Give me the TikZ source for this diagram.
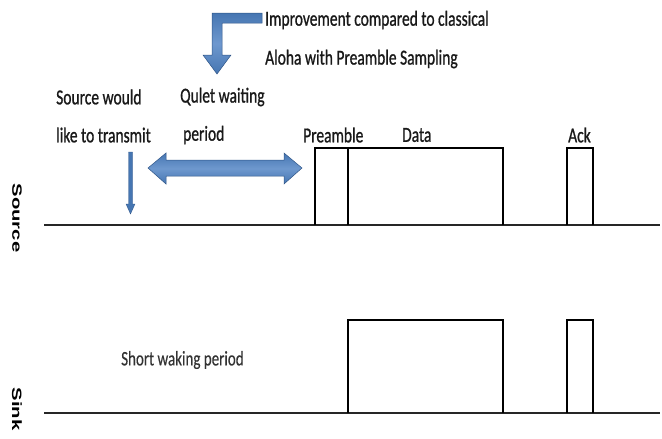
\documentclass[tikz,border=0pt]{standalone}
\usepackage{fontspec}
\setmainfont{Carlito}
\newfontfamily\lblfont{Carlito}[FakeBold=1.1]
\newfontfamily\shortfont{Carlito}[FakeBold=0.4]
\newfontfamily\axfont{Liberation Sans}
\usetikzlibrary{arrows.meta}
\definecolor{arrblue}{HTML}{4676B2}
\definecolor{arrlight}{HTML}{6E98CE}
\definecolor{arredge}{HTML}{2F5587}
\newcommand{\tall}[1]{\scalebox{1}[1.38]{#1}}
\newcommand{\wide}[1]{\scalebox{1.5}[1]{#1}}
\begin{document}
\begin{tikzpicture}[x=1pt,y=-1pt,
  lbl/.style={font=\lblfont\fontsize{15.5}{18}\selectfont, inner sep=0pt, anchor=west, text=black!90},
  sig/.style={line width=1.1pt, black},
  axis/.style={line width=1.8pt, black!85},
  fath/.style={draw=arredge, line width=0.5pt, top color=arrblue, bottom color=arrblue, middle color=arrlight},
  side/.style={font=\axfont\bfseries\fontsize{13.5}{15}\selectfont, rotate=-90, inner sep=0pt}]
\useasboundingbox (0,0) rectangle (662,439);
% axes
\coordinate (s0) at (44,225);
\coordinate (s1) at (660,225);
\coordinate (k0) at (44,413);
\coordinate (k1) at (660,413);
\draw[axis] (s0) -- (s1);
\draw[axis] (k0) -- (k1);
% source pulses
\draw[sig] (315,225) -- (315,148) -- (503,148) -- (503,225);
\draw[sig] (348,148) -- (348,225);
\draw[sig] (567,225) -- (567,148) -- (593,148) -- (593,225);
% sink pulses
\draw[sig] (348,413) -- (348,320) -- (503,320) -- (503,413);
\draw[sig] (567,413) -- (567,320) -- (593,320) -- (593,413);
% labels
\node[lbl] (imp1) at (265,20) {\tall{Improvement compared to classical}};
\node[lbl] (imp2) at (265,59) {\tall{Aloha with Preamble Sampling}};
\node[lbl] (sw1) at (56,97) {\tall{Source would}};
\node[lbl] (sw2) at (56,135) {\tall{like to transmit}};
\node[lbl] (qw1) at (180,97) {\tall{Qulet waiting}};
\node[lbl] (qw2) at (183,135) {\tall{period}};
\node[lbl] (pre) at (303,135) {\tall{Preamble}};
\node[lbl] (dat) at (402,135) {\tall{Data}};
\node[lbl] (ack) at (568,135) {\tall{Ack}};
\node[lbl, font=\shortfont\fontsize{15}{17}\selectfont, text=black!80] (short) at (121,360) {\tall{Short waking period}};
\node[side] (src) at (17,218) {\wide{Source}};
\node[side] (snk) at (17,409) {\wide{Sink}};
% elbow arrow
\draw[fath] (262,13) -- (262,23) -- (222,23) -- (222,55) -- (231,55) -- (217,74) -- (203,55) -- (212,55) -- (212,13) -- cycle;
% double arrow
\draw[fath] (148,168) -- (166,153) -- (166,160) -- (284,160) -- (284,153) -- (302,168) -- (284,184) -- (284,176) -- (166,176) -- (166,184) -- cycle;
% down arrow
\draw[arredge, fill=arrblue, line width=0.3pt] (128.5,152) -- (132.5,152) -- (132.5,204) -- (135,204) -- (130.5,214) -- (126,204) -- (128.5,204) -- cycle;
\end{tikzpicture}
\end{document}
